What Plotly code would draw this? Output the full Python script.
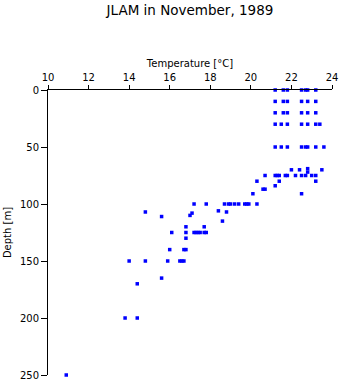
import plotly.graph_objects as go

depth = (
    [0] * 7 + [10] * 6 + [20] * 6 + [30] * 7 + [50] * 8
    + [69, 70, 70, 70, 72]
    + [75] * 11 + [80] * 3 + [84] + [87, 87] + [91, 91]
    + [100] * 11 + [106, 107, 107, 108, 110, 111, 115, 120, 120]
    + [125] * 8 + [130] + [140] * 3 + [150] * 6
    + [165, 170, 200, 200, 250]
)
temperature = (
    [21.2, 21.6, 21.8, 22.5, 22.7, 22.8, 23.2]
    + [21.2, 21.6, 21.8, 22.5, 22.8, 23.2]
    + [21.2, 21.6, 21.8, 22.5, 22.8, 23.2]
    + [21.2, 21.5, 21.8, 22.5, 22.8, 23.2, 23.4]
    + [21.2, 21.5, 21.8, 22.5, 22.7, 22.8, 23.2, 23.6]
    + [22.8, 22.0, 22.4, 23.5, 22.8]
    + [20.7, 21.2, 21.3, 21.4, 21.7, 21.8, 22.2, 22.5, 22.7, 23.0, 23.2]
    + [20.3, 21.4, 23.2] + [21.2] + [20.6, 20.7] + [20.1, 22.5]
    + [17.2, 17.8, 18.7, 18.9, 19.0, 19.2, 19.4, 19.7, 19.8, 19.9, 20.3]
    + [18.4, 18.8, 14.8, 17.1, 17.0, 15.6, 18.6, 16.8, 17.7]
    + [16.1, 16.8, 17.2, 17.3, 17.4, 17.5, 17.7, 17.8]
    + [16.8] + [16.0, 16.7, 16.8] + [14.0, 14.8, 15.9, 16.5, 16.6, 16.7]
    + [15.6, 14.4, 13.8, 14.4, 10.9]
)

x_ticks = [10, 12, 14, 16, 18, 20, 22, 24]
y_ticks = [0, 50, 100, 150, 200, 250]

font = "DejaVu Sans, Liberation Sans, Arial, sans-serif"

fig = go.Figure(
    go.Scatter(
        x=temperature, y=depth, mode="markers",
        marker=dict(symbol="square", size=3.5, color="#0000ff", line=dict(width=0)),
        hoverinfo="x+y",
        cliponaxis=False,
    )
)

fig.update_layout(
    width=341, height=384,
    margin=dict(l=48, r=9, t=90, b=9),
    paper_bgcolor="white", plot_bgcolor="white",
    showlegend=False,
    font=dict(family=font, size=10, color="black"),
    title=dict(
        text="JLAM in November, 1989",
        x=190 / 341, xanchor="center",
        y=1 - 10 / 384, yanchor="middle", yref="container",
        font=dict(family=font, size=13.5, color="black"),
    ),
    xaxis=dict(
        side="top", range=[10, 24], tickvals=x_ticks,
        ticks="outside", ticklen=4, tickwidth=1, tickcolor="black",
        showline=True, linecolor="black", linewidth=1,
        showgrid=False, zeroline=False, automargin=False,
        title=dict(text="Temperature [°C]", standoff=2, font=dict(size=10)),
        tickfont=dict(size=10),
    ),
    yaxis=dict(
        range=[250, 0], tickvals=y_ticks,
        ticks="outside", ticklen=6, tickwidth=1, tickcolor="black",
        showline=True, linecolor="black", linewidth=1,
        showgrid=False, zeroline=False, automargin=False,
        title=dict(text="Depth [m]", standoff=6, font=dict(size=10)),
        tickfont=dict(size=10),
    ),
)

fig.write_html("out.html")
